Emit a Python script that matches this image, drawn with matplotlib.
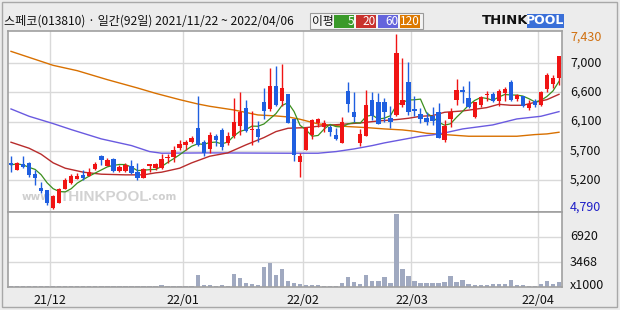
import numpy as np
import pandas as pd
import matplotlib
matplotlib.use("Agg")
import matplotlib.pyplot as plt
import matplotlib.patches as mpatches
import matplotlib.transforms as mtransforms

plt.rcParams['font.family'] = ['Noto Sans CJK KR', 'DejaVu Sans']

# ---------------- data ----------------
opens = [5490, 5380, 5470, 5490, 5320, 5110, 5080, 4810, 4890, 5100,
         5190, 5250, 5310, 5300, 5400, 5590, 5450, 5550, 5370, 5370,
         5450, 5350, 5270, 5450, 5410, 5410, 5560, 5580, 5720, 5760,
         5810, 6010, 5800, 5700, 5900, 5980, 5790, 5890, 6050, 6310,
         5990, 6000, 6400, 6300, 6650, 6420, 6520, 6150, 5510, 5690,
         5910, 6090, 6030, 6030, 5910, 5790, 6570, 6250, 5790, 5890,
         6430, 6400, 6400, 6160, 6210, 6360, 6700, 6300, 6220, 6160,
         6200, 6260, 5840, 6150, 6440, 6580, 6460, 6180, 6360, 6510,
         6520, 6420, 6540, 6700, 6450, 6490, 6310, 6420, 6360, 6600,
         6680, 6770]
highs = [5590, 5510, 5600, 5510, 5390, 5210, 5080, 5000, 5110, 5260,
         5330, 5340, 5390, 5420, 5510, 5610, 5560, 5560, 5460, 5490,
         5530, 5490, 5420, 5470, 5490, 5630, 5630, 5740, 5840, 5840,
         5890, 6490, 5840, 5950, 5920, 6010, 5960, 6460, 6550, 6440,
         6270, 6120, 6620, 6910, 6940, 6980, 6520, 6150, 5640, 6030,
         6150, 6160, 6130, 6060, 6020, 6180, 6700, 6550, 6000, 6590,
         6550, 6540, 6460, 6350, 7430, 7060, 7000, 6500, 6310, 6260,
         6330, 6390, 6140, 6320, 6750, 6650, 6720, 6410, 6490, 6570,
         6550, 6600, 6630, 6740, 6520, 6500, 6440, 6450, 6570, 6840,
         6810, 7090]
lows = [5350, 5380, 5410, 5280, 5160, 5040, 4850, 4790, 4880, 5090,
        5170, 5250, 5240, 5290, 5390, 5460, 5440, 5360, 5350, 5350,
        5320, 5240, 5260, 5360, 5390, 5400, 5490, 5500, 5690, 5690,
        5790, 5750, 5590, 5640, 5750, 5690, 5760, 5870, 5910, 5960,
        5760, 5810, 6150, 6270, 6350, 6350, 6090, 5520, 5280, 5690,
        5850, 6030, 5960, 5890, 5830, 5790, 6250, 6100, 5740, 5890,
        6130, 6070, 6110, 6020, 6190, 6330, 6210, 6190, 6090, 6060,
        6060, 5860, 5800, 6030, 6360, 6390, 6310, 6160, 6330, 6420,
        6410, 6350, 6420, 6420, 6420, 6330, 6280, 6330, 6350, 6550,
        6610, 6660]
closes = [5460, 5490, 5430, 5310, 5270, 5060, 4880, 4990, 5100, 5240,
          5300, 5300, 5260, 5360, 5470, 5530, 5530, 5370, 5430, 5460,
          5340, 5270, 5400, 5470, 5480, 5550, 5580, 5680, 5770, 5810,
          5860, 5760, 5640, 5910, 5840, 5730, 5890, 6100, 6250, 5970,
          6000, 5880, 6270, 6640, 6360, 6610, 6090, 5610, 5600, 6020,
          6130, 6150, 6090, 5950, 5850, 6110, 6380, 6180, 5920, 6360,
          6200, 6080, 6250, 6100, 7140, 6430, 6250, 6270, 6150, 6100,
          6120, 5870, 6040, 6260, 6590, 6560, 6330, 6400, 6480, 6520,
          6420, 6570, 6600, 6440, 6510, 6350, 6370, 6360, 6550, 6810,
          6760, 7090]
volumes = [140] * 25 + [280, 140, 140, 140, 140, 140,
           1660, 280, 280, 140, 280, 140, 1800, 1250, 560, 420, 280,
           2770, 3330, 1660, 2500, 830, 600, 420, 280,
           280, 280, 140, 140, 140, 560, 1390, 690, 420, 1660,
           830, 830, 1390, 560, 10130, 2500, 1530, 830, 560, 555,
           555, 555, 694, 1526, 694, 971, 416, 277, 277, 277,
           416, 416, 416, 971, 277, 277, 139, 139, 416, 832,
           416, 694]

# moving averages (index, value)
ma20_x = [0, 3, 5, 7, 9, 12, 15, 19, 22, 24, 25, 28, 30, 33, 36, 39, 42, 44, 46,
          49, 52, 55, 58, 61, 64, 66, 68, 70, 72, 75, 79, 81, 83, 85, 87, 89, 91]
ma20_y = [5800, 5710, 5620, 5490, 5410, 5350, 5320, 5310, 5310, 5340, 5350, 5410,
          5490, 5590, 5640, 5760, 5870, 5960, 6010, 6020, 6050, 6070, 6090, 6120,
          6140, 6160, 6190, 6200, 6250, 6270, 6320, 6370, 6355, 6355, 6400, 6440, 6520]
ma60_x = [0, 3, 7, 10, 15, 20, 23, 25, 33, 46, 51, 54, 57, 60, 62, 65, 68, 70, 72,
          75, 80, 84, 88, 91]
ma60_y = [6300, 6190, 6080, 5990, 5850, 5750, 5660, 5635, 5640, 5635, 5635, 5660,
          5700, 5750, 5790, 5840, 5890, 5910, 5940, 6000, 6060, 6150, 6190, 6260]
ma120_x = [0, 7, 11, 16, 21, 24, 28, 31, 33, 37, 41, 44, 46, 48, 51, 54, 56, 59,
           62, 65, 67, 69, 72, 76, 84, 87, 89, 91]
ma120_y = [7165, 6955, 6875, 6740, 6615, 6535, 6440, 6375, 6340, 6285, 6210, 6195,
           6180, 6145, 6075, 6050, 6035, 6020, 6000, 5985, 5965, 5935, 5915, 5890,
           5890, 5915, 5925, 5950]

price_grid = [5230, 5670, 6110, 6550, 6990]
price_labels = ['5,200', '5,700', '6,100', '6,600', '7,000']
vol_grid = [3468, 6936]
vol_labels = ['3468', '6920']
date_pos = [6.5, 28.5, 48.5, 66.5, 87.5]
date_labels = ['21/12', '22/01', '22/02', '22/03', '22/04']
price_max_label = '7,430'
price_min_label = '4,790'

title = '스페코(013810) · 일간(92일) 2021/11/22 ~ 2022/04/06'
legend_items = ['5', '20', '60', '120']

# ---------------- styles ----------------
W, H = 620, 310
BG = '#ececec'
RED = '#f01414'
BLUE = '#1f5fe0'
C_MA5 = '#3c8f1e'
C_MA20 = '#b82c2c'
C_MA60 = '#6a5ae0'
C_MA120 = '#d87000'
LEG_COLORS = ['#3a9a2a', '#c8322d', '#6464dc', '#dc7800']
GRID = '#d9d9d9'
SPINE = '#a0a0a0'

def fx(x):
    return x / W

def fy(y):
    return 1 - y / H

fig = plt.figure(figsize=(W / 100, H / 100), dpi=100, facecolor=BG)

# outer border
fig.patches.append(mpatches.Rectangle((fx(2), fy(307)), fx(615), 305 / H, fill=False,
                                      edgecolor='#a8a8a8', lw=1.0,
                                      transform=fig.transFigure))

axp = fig.add_axes([fx(8), fy(212), 554 / W, 181 / H])
axv = fig.add_axes([fx(8), fy(287), 554 / W, 75 / H])

n = len(closes)
x = np.arange(n)
o = np.array(opens, float)
c = np.array(closes, float)
h = np.array(highs, float)
l = np.array(lows, float)
up = c >= o
colors = np.where(up, RED, BLUE)

for ax in (axp, axv):
    ax.set_facecolor('white')
    ax.set_xlim(-0.5, n - 0.5)
    for s in ax.spines.values():
        s.set_color(SPINE)
        s.set_linewidth(1.2)
    ax.tick_params(left=False, right=False, bottom=False, top=False,
                   labelleft=False, labelbottom=False)
    for dp in date_pos:
        ax.axvline(dp, color=GRID, lw=1.0, zorder=0)

axp.set_ylim(4752, 7471)
for g in price_grid:
    axp.axhline(g, color=GRID, lw=1.0, zorder=0)

# watermark
axp.text(0.024, 0.085, 'www.', transform=axp.transAxes, fontsize=7.5,
         color='#cfcfcf', fontweight='bold', va='center', family='DejaVu Sans', zorder=1)
axp.text(0.093, 0.085, 'THINKPOOL', transform=axp.transAxes, fontsize=11,
         color='#d2d2d2', fontweight='bold', va='center', family='Liberation Sans', zorder=1)
axp.text(0.252, 0.085, '.com', transform=axp.transAxes, fontsize=7.5,
         color='#cfcfcf', fontweight='bold', va='center', family='DejaVu Sans', zorder=1)

# moving averages
ma5 = pd.Series(closes, dtype=float).rolling(5, min_periods=1).mean()
axp.plot(ma120_x, ma120_y, color=C_MA120, lw=1.0, zorder=2)
axp.plot(ma60_x, ma60_y, color=C_MA60, lw=1.0, zorder=2)
axp.plot(ma20_x, ma20_y, color=C_MA20, lw=1.0, zorder=2)
axp.plot(x, ma5, color=C_MA5, lw=0.9, zorder=2)

# candles
axp.vlines(x, l, h, colors=colors, lw=1.0, zorder=3)
body_bottom = np.minimum(o, c)
body_h = np.maximum(np.abs(c - o), 14)
axp.bar(x, body_h, bottom=body_bottom, width=0.72, color=colors, zorder=4, linewidth=0)

# price labels on the right
trp = mtransforms.blended_transform_factory(axp.transAxes, axp.transData)
lx = 1 + 8 / 554
for g, lab in zip(price_grid, price_labels):
    axp.text(lx, g, lab, transform=trp, fontsize=9, va='center', ha='left', color='#111111')
axp.text(lx, 1 - 6 / 181, price_max_label, transform=axp.transAxes, fontsize=9,
         va='center', ha='left', color='#d07010')
axp.text(lx, 5 / 181, price_min_label, transform=axp.transAxes, fontsize=9,
         va='center', ha='left', color='#2020c8')

# volume panel
axv.set_ylim(0, 10404)
for g in vol_grid:
    axv.axhline(g, color=GRID, lw=1.0, zorder=0)
axv.bar(x, volumes, width=0.72, color='#a0a9c0', zorder=2, linewidth=0)
trv = mtransforms.blended_transform_factory(axv.transAxes, axv.transData)
for g, lab in zip(vol_grid, vol_labels):
    axv.text(lx, g, lab, transform=trv, fontsize=9, va='center', ha='left', color='#111111')
axv.text(lx, 1.5 / 75, 'x1000', transform=axv.transAxes, fontsize=9,
         va='center', ha='left', color='#111111')

trd = mtransforms.blended_transform_factory(axv.transData, axv.transAxes)
for dp, lab in zip(date_pos, date_labels):
    axv.text(dp, -13 / 75, lab, transform=trd, fontsize=9, va='center', ha='center',
             color='#111111')

# header
fig.text(fx(4), fy(21), title, fontsize=8.7, va='center', ha='left', color='#111111')

fig.patches.append(mpatches.Rectangle((fx(310), fy(29)), 113 / W, 16 / H, fill=True,
                                      facecolor='#f4f4f4', edgecolor='#9a9a9a', lw=0.8,
                                      transform=fig.transFigure))
fig.text(fx(312), fy(21), '이평', fontsize=8.5, va='center', ha='left', color='#111111')
box_x = [334, 356, 378, 400]
for bx, col, lab in zip(box_x, LEG_COLORS, legend_items):
    fig.patches.append(mpatches.Rectangle((fx(bx), fy(28)), 20 / W, 13 / H,
                                          facecolor=col, edgecolor='none',
                                          transform=fig.transFigure))
    fig.text(fx(bx + 20), fy(21.5), lab, fontsize=8.5, va='center', ha='right',
             color='white')

# THINKPOOL logo
fig.text(fx(482), fy(21), 'THINK', fontsize=9.5, fontweight='heavy', va='center',
         ha='left', color='#111111', family='DejaVu Sans')
fig.patches.append(mpatches.Rectangle((fx(527), fy(28)), 37 / W, 14 / H,
                                      facecolor='#3a6fd8', edgecolor='none',
                                      transform=fig.transFigure))
fig.text(fx(545.5), fy(21), 'POOL', fontsize=9, fontweight='heavy', va='center',
         ha='center', color='white', family='DejaVu Sans')

fig.savefig('out.png', dpi=100, facecolor=BG)
